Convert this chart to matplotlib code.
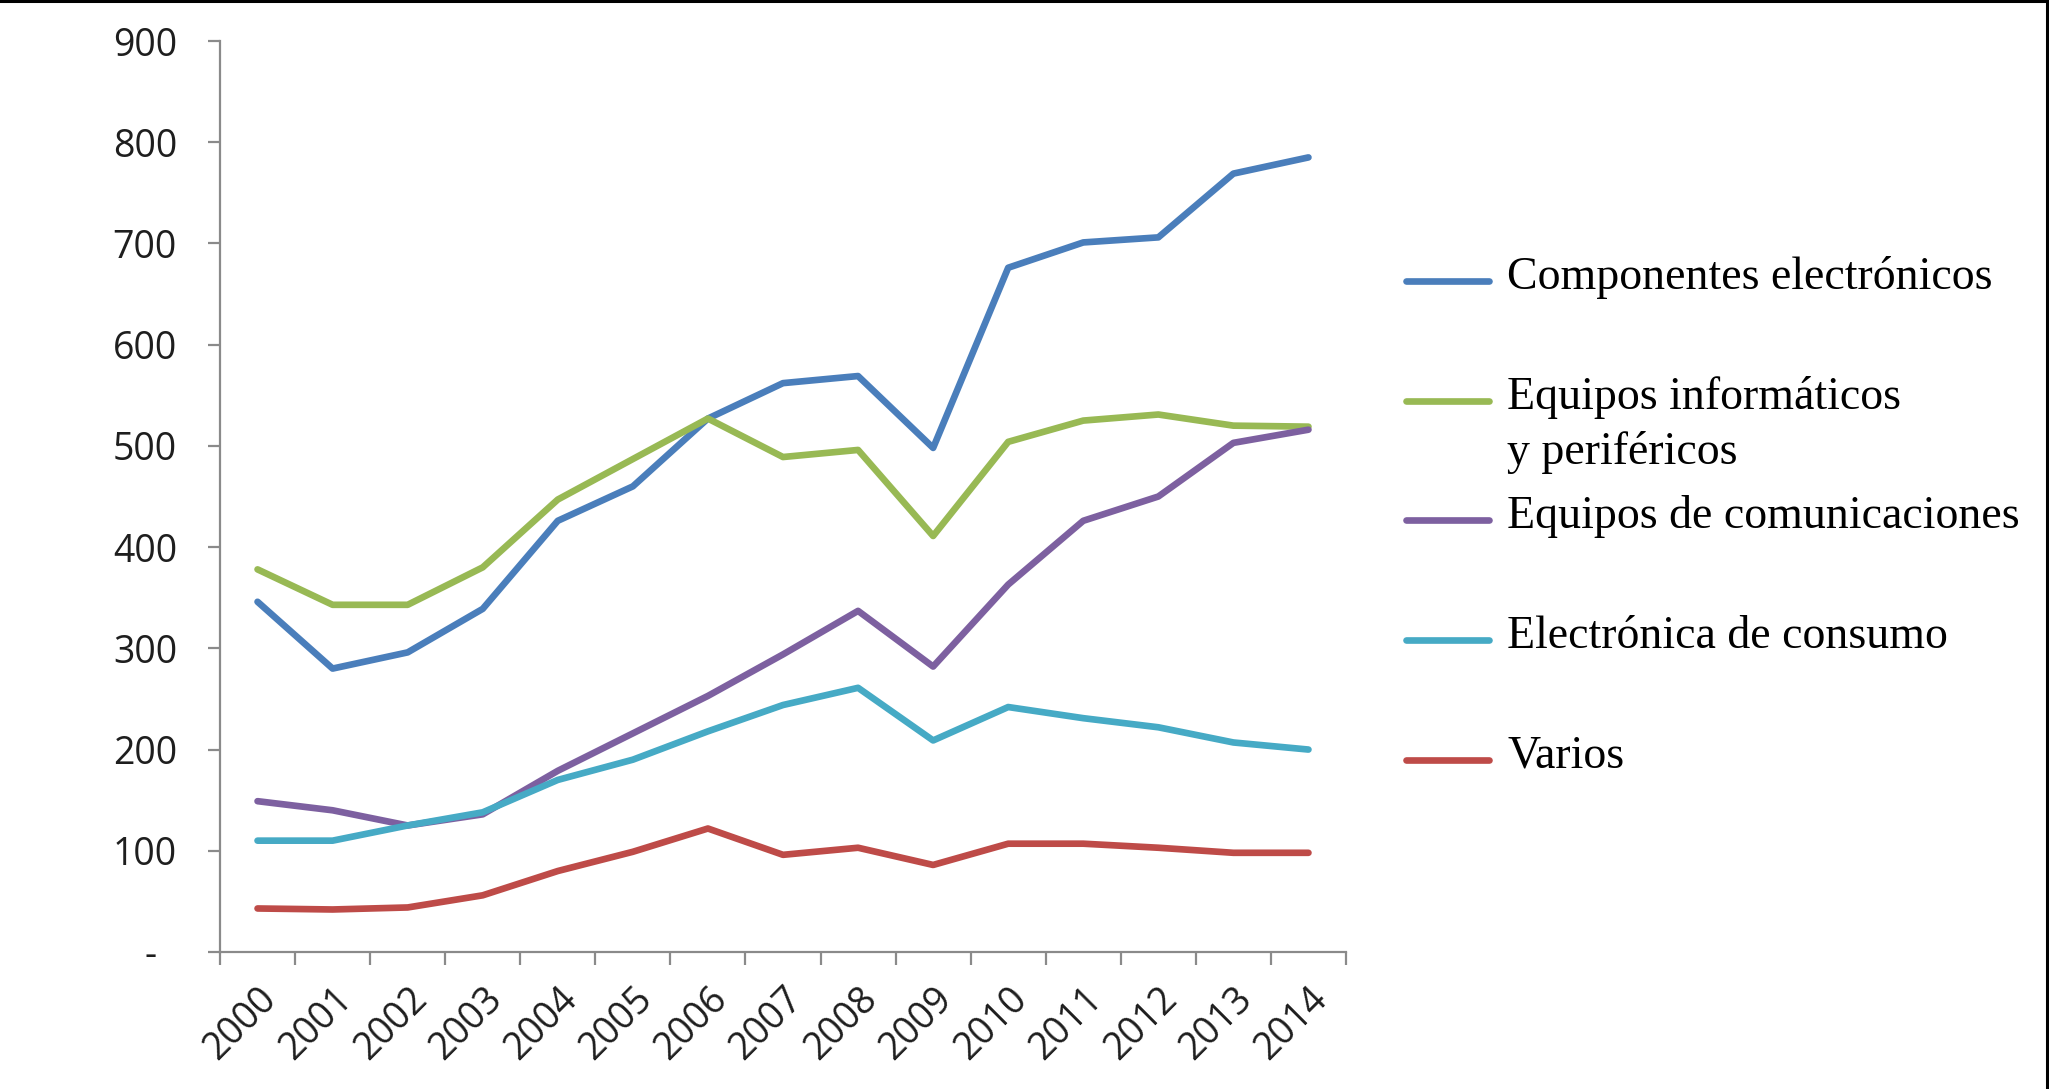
import numpy as np
import matplotlib
matplotlib.use("Agg")
from matplotlib import pyplot as plt
from matplotlib.lines import Line2D

years = [str(y) for y in range(2000, 2015)]
componentes = [346, 280, 296, 339, 426, 460, 527, 562, 569, 498, 676, 701, 706, 769, 785]
informaticos = [378, 343, 343, 380, 447, 487, 527, 489, 496, 411, 504, 525, 531, 520, 519]
comunicaciones = [149, 140, 125, 136, 179, 216, 253, 294, 337, 282, 363, 426, 450, 503, 516]
consumo = [110, 110, 125, 138, 170, 190, 218, 244, 261, 209, 242, 231, 222, 207, 200]
varios = [43, 42, 44, 56, 80, 99, 122, 96, 103, 86, 107, 107, 103, 98, 98]

labels = ["Componentes electrónicos", "Equipos informáticos\ny periféricos",
          "Equipos de comunicaciones", "Electrónica de consumo", "Varios"]
colors = ["#4A7EBB", "#98B954", "#7D60A0", "#46AAC5", "#BE4B48"]
series = [componentes, informaticos, comunicaciones, consumo, varios]

yticks = [0, 100, 200, 300, 400, 500, 600, 700, 800, 900]
ytick_labels = ["-  "] + [str(v) for v in yticks[1:]]

W, H = 2049, 1089
fig = plt.figure(figsize=(W / 100, H / 100), dpi=100)
fig.patch.set_facecolor("white")

# axes box in pixels: x 220..1346, y 41..952
ax = fig.add_axes([220 / W, 1 - 952 / H, (1346 - 220) / W, (952 - 41) / H])
x = np.arange(len(years))
for vals, c in zip(series, colors):
    ax.plot(x, vals, color=c, lw=4.8, solid_capstyle="round", solid_joinstyle="round")

ax.set_xlim(-0.5, len(years) - 0.5)
ax.set_ylim(0, 900)

axis_grey = "#8a8a8a"
for s in ["top", "right"]:
    ax.spines[s].set_visible(False)
for s in ["left", "bottom"]:
    ax.spines[s].set_color(axis_grey)
    ax.spines[s].set_linewidth(1.6)

tick_font = dict(family="Open Sans", size=27, color="#1e1e1e")

ax.set_yticks(yticks)
ax.set_yticklabels(ytick_labels, fontdict=tick_font)
ax.tick_params(axis="y", length=9, width=1.6, color=axis_grey, pad=22)

# category axis: marks between categories, labels at centres
ax.set_xticks(np.arange(-0.5, len(years), 1.0))
ax.set_xticklabels([])
ax.tick_params(axis="x", which="major", length=9.5, width=1.6, color=axis_grey)
ax.set_xticks(x, minor=True)
ax.set_xticklabels(years, minor=True, fontdict=tick_font, rotation=45,
                   ha="right", va="top", rotation_mode="anchor")
ax.tick_params(axis="x", which="minor", length=0, pad=20)
for t in ax.get_xticklabels(minor=True):
    t.set_x(t.get_position()[0])

# legend drawn by hand to follow the original layout
handle_y = [281, 401, 520, 640, 760]
for lab, c, hy in zip(labels, colors, handle_y):
    fy = 1 - hy / H
    fig.add_artist(Line2D([1406 / W, 1489 / W], [fy, fy], color=c, lw=4.8,
                          solid_capstyle="round"))
    lines = lab.split("\n")
    for k, line in enumerate(lines):
        by = hy + 8 + k * 55
        fig.text(1507 / W, 1 - by / H, line, family="Liberation Serif", size=33,
                 color="black", ha="left", va="baseline")

# thin frame on top and right edge of the picture
fig.add_artist(Line2D([0, 1], [1 - 1 / H, 1 - 1 / H], color="black", lw=2.2))
fig.add_artist(Line2D([1 - 2 / W, 1 - 2 / W], [0, 1], color="black", lw=2.2))

fig.savefig("out.png", dpi=100, facecolor="white")
